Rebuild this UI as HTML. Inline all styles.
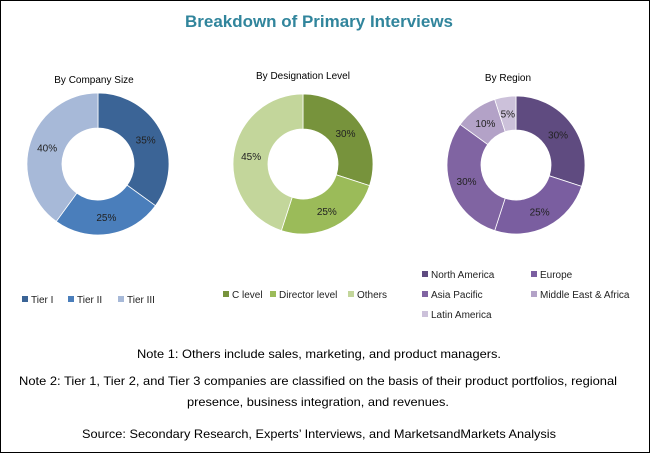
<!DOCTYPE html>
<html><head><meta charset="utf-8"><style>
html,body{margin:0;padding:0;background:#fff}
svg{display:block}
text{font-family:"Liberation Sans",sans-serif}
</style></head><body>
<svg id="chart" width="650" height="453" viewBox="0 0 650 453">
<rect x="0.5" y="0.5" width="649" height="452" fill="#fff" stroke="#000" stroke-width="1"/>
<text x="319" y="27" text-anchor="middle" font-size="17" font-weight="bold" fill="#31859c" textLength="268" lengthAdjust="spacingAndGlyphs">Breakdown of Primary Interviews</text>
<g id="donuts"></g>
<g font-size="12" fill="#000">
<text x="319" y="358" text-anchor="middle" textLength="364" lengthAdjust="spacingAndGlyphs">Note 1: Others include sales, marketing, and product managers.</text>
<text x="318" y="385" text-anchor="middle" textLength="598" lengthAdjust="spacingAndGlyphs">Note 2: Tier 1, Tier 2, and Tier 3 companies are classified on the basis of their product portfolios, regional</text>
<text x="318" y="406" text-anchor="middle" textLength="262" lengthAdjust="spacingAndGlyphs">presence, business integration, and revenues.</text>
<text x="319" y="438" text-anchor="middle" textLength="474" lengthAdjust="spacingAndGlyphs">Source: Secondary Research, Experts’ Interviews, and MarketsandMarkets  Analysis</text>
</g>
</svg>
<script>
const companyCategories = ["Tier I","Tier II","Tier III"];
const companyValues = [35,25,40];
const designationCategories = ["C level","Director level","Others"];
const designationValues = [30,25,45];
const regionCategories = ["North America","Europe","Asia Pacific","Middle East & Africa","Latin America"];
const regionValues = [30,25,30,10,5];

const NS="http://www.w3.org/2000/svg";
const root=document.getElementById('donuts');
function mk(tag,attrs,parent){const e=document.createElementNS(NS,tag);for(const k in attrs)e.setAttribute(k,attrs[k]);(parent||root).appendChild(e);return e;}
function pt(cx,cy,r,a){return [cx+r*Math.sin(a),cy-r*Math.cos(a)];}
function donut(cfg){
  const g=mk('g',{});
  
  
  const t=mk('text',{x:cfg.titleX,y:cfg.titleY,'text-anchor':'middle','font-size':'10',fill:'#000'},g);
  t.textContent=cfg.title;
  
  
  const total=cfg.values.reduce((a,b)=>a+b,0);
  let acc=0;
  cfg.values.forEach((v,i)=>{
    const a0=acc/total*2*Math.PI; acc+=v; const a1=acc/total*2*Math.PI;
    const large=(a1-a0)>Math.PI?1:0;
    const [x0,y0]=pt(cfg.cx,cfg.cy,cfg.r,a0),[x1,y1]=pt(cfg.cx,cfg.cy,cfg.r,a1);
    const [x2,y2]=pt(cfg.cx,cfg.cy,cfg.ri,a1),[x3,y3]=pt(cfg.cx,cfg.cy,cfg.ri,a0);
    const p=mk('path',{d:`M${x0},${y0}A${cfg.r},${cfg.r} 0 ${large} 1 ${x1},${y1}L${x2},${y2}A${cfg.ri},${cfg.ri} 0 ${large} 0 ${x3},${y3}Z`,fill:cfg.colors[i],stroke:'#fff','stroke-width':'0.8'},g);
    
    
    const am=(a0+a1)/2;
    const [lx,ly]=pt(cfg.cx,cfg.cy,(cfg.r+cfg.ri)/2,am);
    const l=mk('text',{x:lx,y:ly+4,'text-anchor':'middle','font-size':'10',fill:'#222'},g);
    l.textContent=v+'%';
    
    
  });
  cfg.legend.forEach((L,i)=>{
    const r=mk('rect',{x:L[0],y:L[1]-7,width:6,height:6,fill:cfg.colors[i]},g);
    
    
    const tx=mk('text',{x:L[0]+9,y:L[1],'font-size':'10',fill:'#222'},g);
    tx.textContent=cfg.cats[i];
    
    
  });
}
donut({name:'company-size',title:'By Company Size',titleX:94,titleY:83,cx:98,cy:164,r:71,ri:36,
  values:companyValues,cats:companyCategories,colors:['#3b6496','#4a7ebb','#a7b9d8'],
  legend:[[22,303],[68,303],[118,303]]});
donut({name:'designation-level',title:'By Designation Level',titleX:303,titleY:79,cx:303,cy:164,r:70,ri:35,
  values:designationValues,cats:designationCategories,colors:['#77933c','#9bbb59','#c3d69b'],
  legend:[[223,298],[270,298],[348,298]]});
donut({name:'region',title:'By Region',titleX:508,titleY:81,cx:516,cy:165,r:69,ri:35,
  values:regionValues,cats:regionCategories,colors:['#5f4b80','#7a5ea0','#8064a2','#b3a2c7','#ccc1da'],
  legend:[[422,278],[531,278],[422,298],[531,298],[422,318]]});
</script>
</body></html>
